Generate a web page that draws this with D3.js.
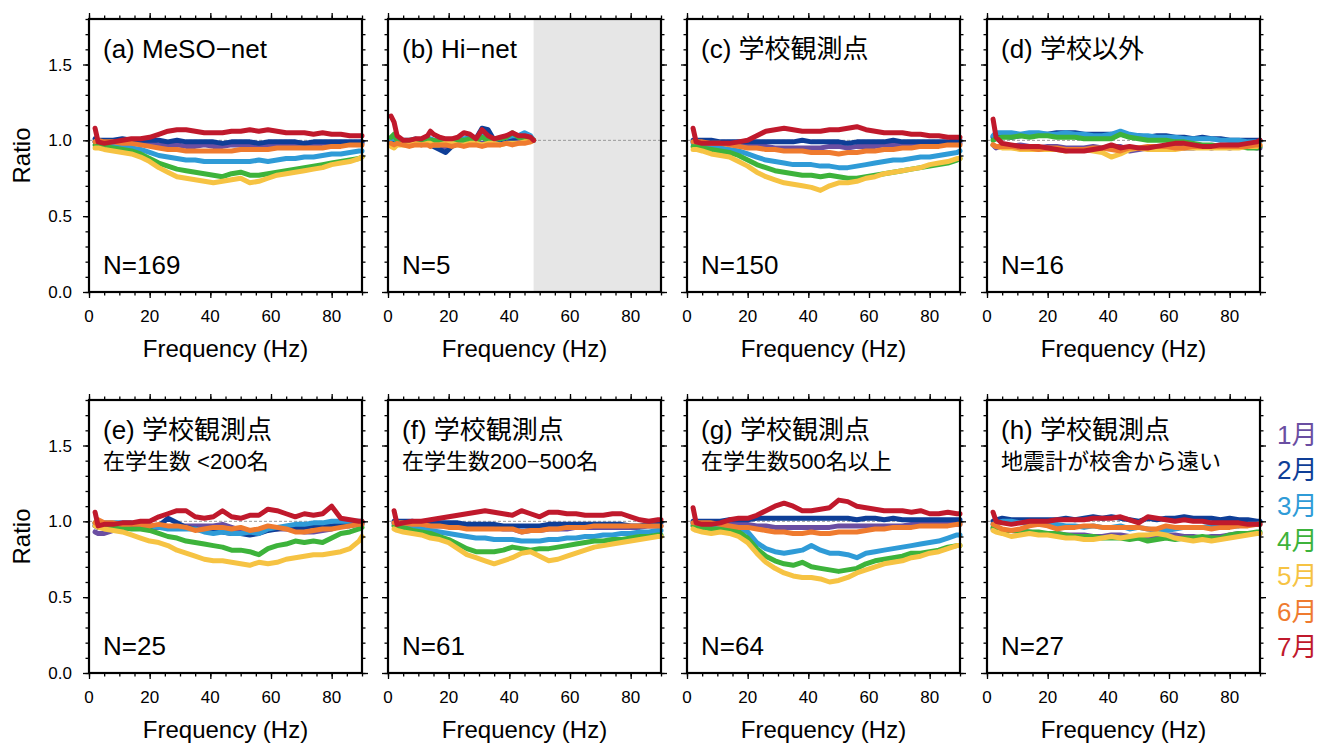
<!DOCTYPE html>
<html>
<head>
<meta charset="utf-8">
<script src="https://cdn.jsdelivr.net/npm/d3@7"></script>
<style>
  body { margin: 0; background: #fff; }
  text { font-family: 'Liberation Sans', 'Noto Sans CJK JP', sans-serif; fill: #000; }
</style>
</head>
<body>
<div id="chart"></div>
<script>
// data
var freqs = [2,3,5,8,11,14,17,20,23,26,29,32,35,38,41,44,47,50,53,56,59,62,65,68,71,74,77,80,83,86,89,90];
var freqsB = [1,2,3,5,7,9,11,13,14,15,17,19,21,23,25,27,29,31,33,35,37,39,41,43,45,47,48];
var months = ['1月','2月','3月','4月','5月','6月','7月'];
var monthColors = ['#6a4ea2','#0e3e97','#2f9bd7','#3db33b','#f6c343','#ef7b2f','#c0192c'];
var panelLabels = ['(a) MeSO\u2212net','(b) Hi\u2212net','(c) 学校観測点','(d) 学校以外',
                   '(e) 学校観測点','(f) 学校観測点','(g) 学校観測点','(h) 学校観測点'];
var subLabels = ['','','','','在学生数 <200名','在学生数200\u2212500名','在学生数500名以上','地震計が校舎から遠い'];
var counts = [169, 5, 150, 16, 25, 61, 64, 27];
var yTicks = [0, 0.5, 1.0, 1.5];
var xTicks = [0, 20, 40, 60, 80];

// series per panel, Jan..Jul
var ratioA = [
  [0.99,0.99,0.99,0.99,0.99,0.98,0.98,0.98,0.97,0.97,0.97,0.96,0.96,0.97,0.96,0.96,0.97,0.97,0.96,0.97,0.97,0.97,0.97,0.97,0.98,0.97,0.98,0.98,0.98,0.98,0.98,0.98],
  [1.01,1.00,1.00,1.00,1.01,1.00,1.00,1.00,1.00,0.99,1.00,0.99,0.99,0.99,0.99,0.98,0.99,0.99,0.99,0.98,0.99,0.99,0.99,0.99,0.98,0.99,0.99,0.99,0.99,0.99,0.99,0.99],
  [0.99,0.99,0.98,0.97,0.96,0.95,0.94,0.92,0.90,0.89,0.88,0.87,0.87,0.86,0.86,0.86,0.86,0.86,0.86,0.87,0.86,0.87,0.88,0.88,0.89,0.89,0.90,0.91,0.91,0.92,0.93,0.93],
  [0.97,0.97,0.96,0.95,0.94,0.93,0.91,0.88,0.85,0.83,0.81,0.80,0.79,0.78,0.77,0.76,0.78,0.79,0.77,0.77,0.78,0.79,0.80,0.81,0.82,0.83,0.84,0.85,0.86,0.87,0.88,0.89],
  [0.95,0.95,0.94,0.93,0.92,0.91,0.89,0.86,0.82,0.79,0.76,0.75,0.74,0.73,0.72,0.73,0.74,0.75,0.72,0.73,0.75,0.77,0.78,0.79,0.80,0.81,0.82,0.84,0.85,0.86,0.88,0.89],
  [0.99,1.00,0.99,0.99,0.98,0.98,0.97,0.96,0.95,0.94,0.94,0.93,0.93,0.93,0.93,0.93,0.93,0.94,0.94,0.94,0.94,0.95,0.95,0.95,0.95,0.95,0.95,0.96,0.96,0.97,0.97,0.97],
  [1.08,0.99,0.98,0.99,1.00,1.01,1.01,1.02,1.04,1.06,1.07,1.07,1.06,1.05,1.05,1.05,1.06,1.06,1.07,1.06,1.07,1.06,1.05,1.05,1.05,1.04,1.05,1.04,1.04,1.03,1.03,1.03]
];
var ratioB = [
  [0.99,0.99,0.98,0.98,0.98,0.98,0.97,0.98,0.97,0.97,0.96,0.96,0.97,0.98,0.97,0.98,0.98,0.98,0.99,0.98,0.98,0.99,0.99,0.99,0.99,1.00,1.00],
  [1.00,1.00,0.99,0.99,0.98,0.99,0.98,0.98,0.97,0.96,0.94,0.92,0.96,0.98,0.99,1.00,1.01,1.08,1.07,1.00,0.99,1.00,1.01,1.02,1.03,1.01,1.00],
  [1.01,1.01,1.00,1.00,1.00,1.01,1.00,1.01,1.01,1.00,1.00,0.99,1.00,1.01,1.01,1.02,1.01,1.04,1.02,1.01,1.01,1.02,1.03,1.03,1.05,1.03,1.00],
  [1.02,1.04,1.00,0.99,1.00,1.00,1.00,1.01,1.00,1.00,0.99,0.99,1.00,1.00,1.00,1.01,1.00,1.02,1.00,1.01,1.01,1.02,1.05,1.02,1.01,1.01,1.00],
  [0.96,0.95,0.97,0.97,0.97,0.98,0.97,0.98,0.98,0.97,0.97,0.98,0.98,0.97,0.97,0.98,0.98,0.97,0.98,0.98,0.97,0.98,0.98,0.98,0.99,0.99,1.00],
  [0.98,0.97,0.98,0.97,0.96,0.97,0.97,0.97,0.96,0.97,0.97,0.97,0.96,0.97,0.96,0.97,0.97,0.96,0.97,0.97,0.97,0.98,0.97,0.98,0.98,0.99,1.00],
  [1.16,1.12,1.03,1.00,1.00,1.01,1.01,1.03,1.06,1.04,1.02,1.01,1.01,1.02,1.05,1.04,1.01,1.07,1.03,1.01,1.02,1.03,1.05,1.03,1.03,1.02,1.00]
];
var ratioC = [
  [0.99,0.99,0.99,0.99,0.98,0.98,0.97,0.97,0.96,0.96,0.95,0.95,0.95,0.95,0.95,0.95,0.96,0.96,0.95,0.96,0.96,0.96,0.97,0.97,0.97,0.97,0.98,0.98,0.98,0.98,0.98,0.98],
  [1.00,1.00,1.00,1.00,0.99,0.99,0.99,0.99,0.99,0.99,0.99,0.99,0.99,1.00,0.99,0.99,0.99,0.99,0.98,0.99,0.99,0.99,0.99,1.00,0.99,0.99,0.99,0.99,0.99,0.99,1.00,1.00],
  [0.98,0.98,0.97,0.96,0.95,0.94,0.93,0.91,0.89,0.87,0.86,0.85,0.84,0.84,0.84,0.83,0.83,0.82,0.82,0.83,0.84,0.85,0.86,0.87,0.87,0.88,0.89,0.89,0.90,0.91,0.92,0.93],
  [0.96,0.96,0.95,0.94,0.93,0.92,0.90,0.87,0.84,0.82,0.80,0.79,0.78,0.77,0.77,0.76,0.77,0.76,0.75,0.75,0.76,0.77,0.78,0.79,0.80,0.81,0.82,0.83,0.84,0.85,0.87,0.88],
  [0.94,0.94,0.93,0.91,0.90,0.89,0.86,0.83,0.79,0.76,0.74,0.72,0.71,0.70,0.69,0.67,0.70,0.72,0.72,0.73,0.75,0.76,0.78,0.79,0.80,0.81,0.82,0.84,0.85,0.86,0.88,0.88],
  [0.99,0.99,0.99,0.98,0.98,0.97,0.96,0.95,0.95,0.94,0.94,0.93,0.93,0.93,0.92,0.92,0.92,0.91,0.92,0.92,0.93,0.93,0.94,0.94,0.95,0.95,0.96,0.96,0.96,0.97,0.97,0.97],
  [1.08,0.99,0.98,0.98,0.98,0.98,0.99,1.00,1.03,1.06,1.07,1.08,1.07,1.06,1.06,1.06,1.07,1.07,1.08,1.09,1.07,1.06,1.05,1.05,1.05,1.04,1.04,1.03,1.03,1.02,1.02,1.02]
];
var ratioD = [
  [0.97,0.95,0.96,0.96,0.97,0.96,0.95,0.96,0.96,0.95,0.95,0.95,0.96,0.95,0.96,0.96,0.93,0.94,0.95,0.95,0.96,0.96,0.95,0.95,0.96,0.95,0.96,0.95,0.96,0.96,0.95,0.95],
  [1.02,1.03,1.03,1.02,1.03,1.04,1.04,1.04,1.05,1.05,1.05,1.04,1.04,1.04,1.04,1.04,1.03,1.03,1.02,1.03,1.03,1.02,1.02,1.01,1.02,1.01,1.01,1.00,1.00,1.00,1.00,1.00],
  [1.03,1.05,1.05,1.05,1.04,1.05,1.05,1.04,1.04,1.05,1.04,1.04,1.03,1.03,1.04,1.06,1.04,1.03,1.03,1.02,1.02,1.02,1.01,1.01,1.01,1.01,1.00,1.00,1.00,0.99,0.99,0.99],
  [1.00,1.01,1.02,1.02,1.03,1.02,1.03,1.03,1.02,1.02,1.02,1.01,1.01,1.01,1.01,1.04,1.02,1.01,1.00,1.00,1.00,0.99,0.99,0.98,0.97,0.97,0.96,0.96,0.96,0.95,0.95,0.96],
  [0.97,0.96,0.95,0.95,0.94,0.94,0.94,0.94,0.94,0.93,0.94,0.94,0.93,0.92,0.89,0.91,0.94,0.95,0.94,0.94,0.94,0.94,0.95,0.95,0.95,0.95,0.95,0.95,0.95,0.96,0.96,0.97],
  [0.97,0.96,0.96,0.96,0.95,0.95,0.94,0.95,0.95,0.94,0.94,0.94,0.95,0.95,0.94,0.93,0.95,0.95,0.96,0.96,0.96,0.95,0.95,0.96,0.96,0.96,0.96,0.96,0.96,0.96,0.97,0.97],
  [1.14,1.02,0.98,0.97,0.96,0.96,0.96,0.95,0.94,0.93,0.93,0.93,0.94,0.95,0.97,0.95,0.96,0.95,0.95,0.96,0.97,0.98,0.98,0.97,0.96,0.96,0.97,0.97,0.97,0.98,0.99,1.00]
];
var ratioE = [
  [0.93,0.92,0.92,0.94,0.95,0.96,0.96,0.96,0.96,0.96,0.97,0.97,0.97,0.97,0.97,0.98,0.96,0.94,0.93,0.94,0.95,0.95,0.95,0.94,0.93,0.93,0.94,0.95,0.97,0.97,0.98,0.98],
  [0.97,0.96,0.96,0.95,0.96,0.96,0.96,0.96,0.97,1.02,0.99,0.96,0.95,0.94,0.94,0.93,0.92,0.92,0.91,0.92,0.94,0.95,0.96,0.96,0.96,0.97,0.97,0.97,0.98,0.98,0.98,0.99],
  [0.98,0.98,0.99,0.99,0.99,0.99,0.98,0.97,0.96,0.95,0.95,0.95,0.95,0.93,0.92,0.93,0.92,0.92,0.93,0.92,0.95,0.96,0.97,0.98,0.98,0.99,0.99,1.00,1.00,1.00,1.00,1.00],
  [0.99,0.98,0.97,0.96,0.96,0.95,0.95,0.94,0.92,0.90,0.89,0.87,0.86,0.85,0.84,0.83,0.81,0.81,0.80,0.78,0.82,0.84,0.85,0.87,0.86,0.87,0.86,0.89,0.92,0.93,0.95,0.96],
  [0.97,0.96,0.95,0.94,0.93,0.91,0.89,0.87,0.86,0.84,0.81,0.79,0.77,0.75,0.74,0.74,0.73,0.72,0.71,0.73,0.72,0.73,0.75,0.76,0.77,0.78,0.78,0.79,0.80,0.82,0.87,0.90],
  [0.99,1.01,0.99,0.99,0.98,0.98,0.98,0.97,0.98,0.97,0.97,0.96,0.94,0.95,0.96,0.96,0.95,0.96,0.94,0.95,0.97,0.96,0.95,0.93,0.93,0.94,0.95,0.95,0.96,0.97,0.98,0.98],
  [1.06,0.97,0.98,0.98,0.99,0.99,1.00,1.00,1.03,1.05,1.07,1.07,1.03,1.02,1.03,1.07,1.03,1.02,1.04,1.04,1.08,1.07,1.05,1.03,1.05,1.04,1.05,1.10,1.02,1.01,1.00,1.00]
];
var ratioF = [
  [0.99,0.99,0.98,0.98,0.98,0.97,0.97,0.97,0.96,0.96,0.96,0.96,0.96,0.95,0.95,0.93,0.94,0.94,0.95,0.95,0.95,0.96,0.96,0.96,0.96,0.96,0.96,0.96,0.96,0.97,0.97,0.97],
  [1.00,1.00,1.00,1.00,0.99,0.99,0.99,0.99,0.99,0.98,0.98,0.98,0.98,0.97,0.97,0.97,0.97,0.97,0.98,0.98,0.98,0.98,0.98,0.98,0.98,0.98,0.98,0.97,0.97,0.98,0.99,0.99],
  [0.98,0.98,0.97,0.96,0.95,0.94,0.93,0.92,0.91,0.90,0.89,0.89,0.88,0.88,0.88,0.87,0.87,0.87,0.88,0.88,0.89,0.89,0.90,0.90,0.91,0.91,0.92,0.92,0.93,0.93,0.94,0.94],
  [0.97,0.96,0.96,0.94,0.93,0.92,0.90,0.88,0.85,0.82,0.80,0.80,0.80,0.81,0.83,0.82,0.81,0.82,0.82,0.83,0.84,0.85,0.86,0.87,0.87,0.88,0.88,0.89,0.90,0.90,0.91,0.91],
  [0.95,0.94,0.93,0.92,0.91,0.89,0.88,0.86,0.82,0.78,0.76,0.74,0.72,0.74,0.76,0.79,0.80,0.77,0.74,0.75,0.77,0.79,0.81,0.83,0.84,0.85,0.86,0.87,0.88,0.89,0.90,0.90],
  [0.99,0.99,0.99,0.98,0.98,0.97,0.97,0.96,0.96,0.95,0.95,0.95,0.95,0.95,0.95,0.93,0.94,0.94,0.95,0.95,0.96,0.96,0.96,0.97,0.97,0.97,0.97,0.97,0.97,0.97,0.97,0.97],
  [1.07,0.98,0.99,1.00,1.00,1.01,1.02,1.03,1.04,1.05,1.06,1.07,1.06,1.05,1.04,1.07,1.05,1.03,1.06,1.06,1.05,1.05,1.04,1.04,1.04,1.05,1.05,1.03,1.01,1.00,1.01,1.01]
];
var ratioG = [
  [0.99,0.99,0.99,0.99,0.99,0.99,0.98,0.98,0.97,0.97,0.96,0.96,0.96,0.96,0.96,0.96,0.96,0.97,0.97,0.97,0.97,0.97,0.97,0.97,0.97,0.98,0.98,0.98,0.98,0.98,0.98,0.98],
  [1.00,1.00,1.00,1.00,1.00,1.01,1.01,1.01,1.02,1.02,1.02,1.02,1.02,1.02,1.02,1.02,1.02,1.02,1.02,1.01,1.02,1.02,1.01,1.02,1.01,1.01,1.01,1.01,1.01,1.01,1.01,1.01],
  [0.98,0.98,0.97,0.97,0.97,0.96,0.95,0.93,0.86,0.82,0.80,0.79,0.80,0.81,0.84,0.81,0.79,0.79,0.78,0.76,0.79,0.80,0.81,0.82,0.83,0.84,0.85,0.86,0.87,0.89,0.91,0.91],
  [0.97,0.96,0.96,0.95,0.95,0.94,0.93,0.89,0.82,0.77,0.74,0.72,0.71,0.73,0.70,0.69,0.68,0.67,0.68,0.69,0.72,0.74,0.75,0.76,0.77,0.79,0.79,0.80,0.81,0.83,0.84,0.84],
  [0.95,0.94,0.93,0.92,0.93,0.92,0.90,0.86,0.79,0.73,0.69,0.66,0.64,0.63,0.63,0.62,0.60,0.61,0.63,0.66,0.68,0.70,0.72,0.73,0.74,0.76,0.77,0.79,0.80,0.82,0.84,0.84],
  [0.99,0.99,0.99,0.99,0.98,0.97,0.96,0.96,0.95,0.94,0.93,0.93,0.92,0.92,0.93,0.92,0.92,0.93,0.93,0.93,0.94,0.95,0.95,0.96,0.96,0.96,0.97,0.97,0.97,0.97,0.98,0.98],
  [1.09,0.99,0.98,0.98,0.99,1.01,1.02,1.02,1.04,1.07,1.10,1.12,1.10,1.07,1.07,1.08,1.09,1.14,1.13,1.10,1.09,1.08,1.07,1.07,1.07,1.06,1.07,1.05,1.05,1.06,1.05,1.05]
];
var ratioH = [
  [0.95,0.94,0.94,0.94,0.93,0.93,0.92,0.92,0.92,0.91,0.91,0.91,0.90,0.90,0.91,0.91,0.90,0.89,0.90,0.90,0.91,0.91,0.90,0.90,0.89,0.90,0.90,0.91,0.92,0.92,0.92,0.92],
  [1.00,1.01,1.02,1.01,1.01,1.01,1.01,1.01,1.01,1.02,1.01,1.02,1.03,1.02,1.03,1.02,1.01,1.00,1.02,1.01,1.02,1.02,1.03,1.02,1.02,1.02,1.01,1.02,1.01,1.01,1.00,1.00],
  [0.98,0.99,1.00,1.00,0.99,0.99,0.99,0.98,0.98,0.97,0.97,0.96,0.97,0.96,0.96,0.97,0.95,0.96,0.95,0.94,0.94,0.95,0.96,0.96,0.96,0.97,0.96,0.97,0.97,0.98,0.98,0.98],
  [0.96,0.95,0.94,0.94,0.94,0.93,0.93,0.92,0.92,0.91,0.90,0.90,0.90,0.89,0.89,0.89,0.88,0.89,0.87,0.88,0.89,0.88,0.89,0.89,0.90,0.89,0.89,0.91,0.92,0.92,0.93,0.93],
  [0.94,0.93,0.92,0.90,0.91,0.92,0.91,0.91,0.90,0.89,0.89,0.88,0.88,0.89,0.90,0.89,0.90,0.91,0.91,0.92,0.91,0.89,0.88,0.87,0.88,0.87,0.88,0.89,0.90,0.91,0.92,0.92],
  [0.98,0.97,0.95,0.94,0.95,0.97,0.98,0.97,0.95,0.96,0.96,0.97,0.97,0.96,0.96,0.96,0.96,0.96,0.95,0.95,0.97,0.96,0.96,0.96,0.96,0.95,0.96,0.96,0.97,0.97,0.98,0.98],
  [1.06,1.00,0.99,0.98,0.99,1.00,1.00,1.00,1.01,1.01,1.01,1.01,1.02,1.02,1.02,1.03,1.01,0.99,1.03,1.02,1.01,1.00,1.01,1.00,1.00,0.99,0.99,0.99,0.99,0.98,0.98,0.98]
];
var panelSeries = [ratioA, ratioB, ratioC, ratioD, ratioE, ratioF, ratioG, ratioH];
var hiNetLimit = 48;   // Hi-net has no data above this (Hz)

// layout
var W = 1323, H = 744;
var panelW = 273, panelH = 273;
var lefts = [89, 388, 687, 987];
var tops = [19, 400];

var svg = d3.select('#chart')
  .append('svg')
  .attr('width', W)
  .attr('height', H);

var x = d3.scaleLinear().domain([0, 90]).range([0, panelW]);
var y = d3.scaleLinear().domain([0, 1.8]).range([panelH, 0]);

var line = d3.line()
  .x(function(d) { return x(d[0]); })
  .y(function(d) { return y(d[1]); });

panelSeries.forEach(function(series, p) {
  var col = p % 4, row = Math.floor(p / 4);
  var g = svg.append('g')
    .attr('transform', 'translate(' + lefts[col] + ',' + tops[row] + ')');
  var fx = (p === 1) ? freqsB : freqs;

  // shaded no-data band for Hi-net
  if (p === 1) {
    g.append('rect')
      .attr('x', x(hiNetLimit))
      .attr('y', 0)
      .attr('width', x(90) - x(hiNetLimit))
      .attr('height', panelH)
      .attr('fill', '#e6e6e6');
  }

  // reference line at 1.0
  g.append('line')
    .attr('x1', 0).attr('x2', panelW)
    .attr('y1', y(1)).attr('y2', y(1))
    .attr('stroke', '#999')
    .attr('stroke-width', 1)
    .attr('stroke-dasharray', '3,2');

  series.forEach(function(vals, m) {
    var pts = vals.map(function(v, i) { return [fx[i], v]; });
    g.append('path')
      .datum(pts)
      .attr('d', line)
      .attr('fill', 'none')
      .attr('stroke', monthColors[m])
      .attr('stroke-width', 5)
      .attr('stroke-linejoin', 'round')
      .attr('stroke-linecap', 'round');
  });

  // axes with ticks on all four sides
  g.append('g').attr('transform', 'translate(0,' + panelH + ')')
    .call(d3.axisBottom(x).tickValues(d3.range(0, 91, 5)).tickSize(3.5).tickFormat(''));
  g.append('g').attr('transform', 'translate(0,' + panelH + ')')
    .call(d3.axisBottom(x).tickValues(xTicks).tickSize(6).tickFormat(''));
  g.append('g').call(d3.axisTop(x).tickValues(d3.range(0, 91, 5)).tickSize(3.5).tickFormat(''));
  g.append('g').call(d3.axisTop(x).tickValues(xTicks).tickSize(6).tickFormat(''));
  g.append('g').call(d3.axisLeft(y).tickValues(d3.range(0, 1.81, 0.1)).tickSize(3.5).tickFormat(''));
  g.append('g').call(d3.axisLeft(y).tickValues(yTicks).tickSize(6).tickFormat(''));
  g.append('g').attr('transform', 'translate(' + panelW + ',0)')
    .call(d3.axisRight(y).tickValues(d3.range(0, 1.81, 0.1)).tickSize(3.5).tickFormat(''));
  g.append('g').attr('transform', 'translate(' + panelW + ',0)')
    .call(d3.axisRight(y).tickValues(yTicks).tickSize(6).tickFormat(''));
  g.selectAll('.domain').remove();
  g.selectAll('.tick line').attr('stroke', '#000').attr('stroke-width', 1.3);

  g.append('rect')
    .attr('width', panelW).attr('height', panelH)
    .attr('fill', 'none')
    .attr('stroke', '#000')
    .attr('stroke-width', 2.2);

  // tick labels
  g.selectAll('.xlab')
    .data(xTicks)
    .enter()
    .append('text')
    .attr('x', function(d) { return x(d); })
    .attr('y', panelH + 30)
    .attr('text-anchor', 'middle')
    .style('font-size', '17px')
    .text(function(d) { return d; });

  if (col === 0) {
    g.selectAll('.ylab')
      .data(yTicks)
      .enter()
      .append('text')
      .attr('x', -17)
      .attr('y', function(d) { return y(d); })
      .attr('dy', '0.36em')
      .attr('text-anchor', 'end')
      .style('font-size', '17px')
      .text(function(d) { return d.toFixed(1); });
    g.append('text')
      .attr('transform', 'translate(' + (-59) + ',' + (panelH / 2) + ') rotate(-90)')
      .attr('text-anchor', 'middle')
      .style('font-size', '24px')
      .text('Ratio');
  }

  g.append('text')
    .attr('x', panelW / 2)
    .attr('y', panelH + 65)
    .attr('text-anchor', 'middle')
    .style('font-size', '24px')
    .text('Frequency (Hz)');

  // panel captions
  g.append('text')
    .attr('x', 14)
    .attr('y', 39)
    .style('font-size', '26px')
    .text(panelLabels[p]);
  if (subLabels[p]) {
    g.append('text')
      .attr('x', 14)
      .attr('y', 69)
      .style('font-size', '22px')
      .text(subLabels[p]);
  }
  g.append('text')
    .attr('x', 14)
    .attr('y', panelH - 18)
    .style('font-size', '26px')
    .text('N=' + counts[p]);
});

// month legend
svg.selectAll('.legend')
  .data(months)
  .enter()
  .append('text')
  .attr('x', 1277)
  .attr('y', function(d, i) { return 444 + i * 35.3; })
  .style('font-size', '26px')
  .style('fill', function(d, i) { return monthColors[i]; })
  .text(function(d) { return d; });
</script>
</body>
</html>
